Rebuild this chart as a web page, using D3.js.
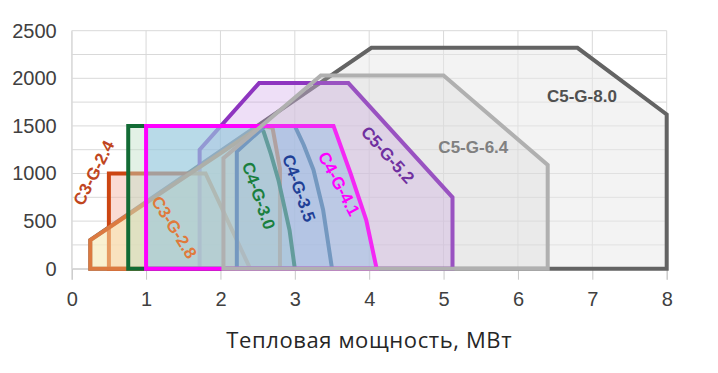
<!DOCTYPE html>
<html>
<head>
<meta charset="utf-8">
<script src="https://cdn.jsdelivr.net/npm/d3@7"></script>
<style>
  body { margin: 0; background: #fff; }
  svg { display: block; font-family: "Liberation Sans", Arial, sans-serif; }
</style>
</head>
<body>
<svg id="chart"></svg>
<script>
// boiler operating fields, [thermal power MW, value]
const seriesNames = ['C5-G-8.0', 'C5-G-5.2', 'C3-G-2.4', 'C3-G-2.8', 'C4-G-3.0', 'C4-G-3.5', 'C4-G-4.1', 'C5-G-6.4'];

const c5g80 = [[0.25, 0], [0.25, 300], [4.03, 2320], [6.8, 2320], [8.0, 1620], [8.0, 0]];
const c5g52 = [[1.72, 0], [1.72, 1250], [2.52, 1950], [3.72, 1950], [5.12, 750], [5.12, 0]];
const c3g24 = [[0.5, 0], [0.5, 1000], [1.8, 1000], [2.4, 0]];
const c3g28 = [[0.25, 0], [0.25, 300], [2.55, 1500], [2.7, 1480], [2.8, 1050], [2.8, 0]];
const c4g30 = [[0.76, 0], [0.76, 1500], [2.5, 1500], [2.58, 1440], [2.68, 1200], [2.78, 930], [2.93, 400], [3.0, 0]];
const c4g35 = [[2.22, 0], [2.22, 1230], [2.6, 1500], [3.0, 1500], [3.12, 1300], [3.25, 1040], [3.38, 620], [3.5, 0]];
const c4g41 = [[1.0, 0], [1.0, 1500], [3.52, 1500], [3.75, 1000], [3.96, 510], [4.1, 0]];
const c5g64 = [[2.04, 0], [2.04, 1160], [3.35, 2030], [5.0, 2030], [6.4, 1090], [6.4, 0]];

// label anchors in data units and their rotation
const labelX = [6.86, 4.245, 0.30, 1.375, 2.51, 3.05, 3.59, 5.40];
const labelY = [1807, 1194, 1005, 433, 766, 845, 890, 1271];
const labelAngle = [0, 48, -63, 58, 71, 71, 62, 0];

const xTicks = [0, 1, 2, 3, 4, 5, 6, 7, 8];
const yTicks = [0, 500, 1000, 1500, 2000, 2500];
const yGrid = d3.range(0, 2501, 250);

const strokeColors = ['#636363', '#8e35c0', '#cc4512', '#dc7a40', '#126b35', '#4f6fa0', '#ff00ff', '#b0b0b0'];
const fillColors = ['#e8e8e8', '#c896e6', '#f4b0a0', '#fff0b0', '#c0e0c8', '#96aae6', '#78b8ec', '#c8c8c8'];
const fillOpacity = [0.5, 0.3, 0.45, 0.5, 0.45, 0.2, 0.4, 0.2];
const labelColors = ['#505050', '#7030a0', '#c0461e', '#e07a3c', '#1a7f3e', '#1f3f96', '#ff00ff', '#808080'];

const width = 718, height = 373;
const svg = d3.select('#chart').attr('width', width).attr('height', height);

const x = d3.scaleLinear().domain([0, 8]).range([71.7, 666.7]);
const y = d3.scaleLinear().domain([0, 2500]).range([268.7, 30.7]);

// grid
svg.append('g')
  .selectAll('line.hgrid')
  .data(yGrid)
  .join('line')
    .attr('x1', x(0)).attr('x2', x(8))
    .attr('y1', d => y(d)).attr('y2', d => y(d))
    .attr('stroke', '#d9d9d9').attr('stroke-width', 1);

svg.append('g')
  .selectAll('line.vgrid')
  .data(xTicks)
  .join('line')
    .attr('x1', d => x(d)).attr('x2', d => x(d))
    .attr('y1', y(2500)).attr('y2', y(0))
    .attr('stroke', '#d9d9d9').attr('stroke-width', 1);

// axes
const xAxis = svg.append('g')
  .attr('transform', `translate(0, ${y(0)})`)
  .call(d3.axisBottom(x).tickValues(xTicks).tickSize(11).tickPadding(12).tickFormat(d3.format('d')));
xAxis.select('.domain').attr('stroke', '#c8c8c8');
xAxis.selectAll('.tick line').attr('stroke', '#c8c8c8');
xAxis.selectAll('.tick text')
  .attr('font-size', '20px')
  .attr('fill', '#404040')
  .attr('font-family', '"Liberation Sans", Arial, sans-serif');

const yAxis = svg.append('g')
  .attr('transform', `translate(${x(0)}, 0)`)
  .call(d3.axisLeft(y).tickValues(yTicks).tickSize(0).tickPadding(15).tickFormat(d3.format('d')));
yAxis.select('.domain').attr('stroke', '#d9d9d9');
yAxis.selectAll('.tick text')
  .attr('font-size', '20px')
  .attr('fill', '#404040')
  .attr('font-family', '"Liberation Sans", Arial, sans-serif');

// polygons
const polys = [c5g80, c5g52, c3g24, c3g28, c4g30, c4g35, c4g41, c5g64];
const line = d3.line().x(d => x(d[0])).y(d => y(d[1]));

svg.append('g')
  .selectAll('path')
  .data(polys)
  .join('path')
    .attr('d', d => line(d) + 'Z')
    .attr('fill', (d, i) => fillColors[i])
    .attr('fill-opacity', (d, i) => fillOpacity[i])
    .attr('stroke', (d, i) => strokeColors[i])
    .attr('stroke-width', 4)
    .attr('stroke-linejoin', 'miter');

// labels
svg.append('g')
  .selectAll('text')
  .data(seriesNames)
  .join('text')
    .attr('transform', (d, i) => `translate(${x(labelX[i])}, ${y(labelY[i])}) rotate(${labelAngle[i]})`)
    .attr('text-anchor', 'middle')
    .attr('dominant-baseline', 'central')
    .attr('font-size', '17px')
    .attr('font-weight', 'bold')
    .attr('fill', (d, i) => labelColors[i])
    .text(d => d);

// axis title
svg.append('text')
  .attr('x', (x(0) + x(8)) / 2)
  .attr('y', 348)
  .attr('text-anchor', 'middle')
  .attr('font-family', '"Open Sans", sans-serif')
  .attr('font-size', '22px')
  .attr('letter-spacing', '0.6px')
  .attr('fill', '#262626')
  .text('Тепловая мощность, МВт');
</script>
</body>
</html>
